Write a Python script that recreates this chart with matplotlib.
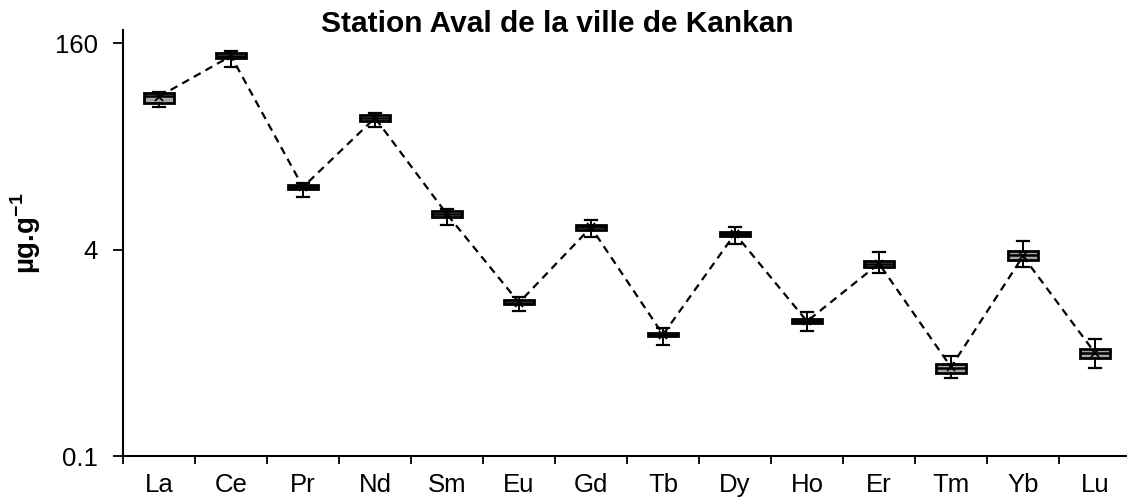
import numpy as np
import matplotlib
matplotlib.use("Agg")
import matplotlib.pyplot as plt
from matplotlib.ticker import FixedLocator, NullFormatter, NullLocator

plt.rcParams['font.family'] = ['Liberation Sans', 'DejaVu Sans']
plt.rcParams['mathtext.fontset'] = 'custom'
plt.rcParams['mathtext.rm'] = 'Liberation Sans'
plt.rcParams['mathtext.bf'] = 'Liberation Sans:bold'

elements = ["La", "Ce", "Pr", "Nd", "Sm", "Eu", "Gd", "Tb", "Dy", "Ho", "Er", "Tm", "Yb", "Lu"]
q1 =     [54.7, 122.0, 11.7, 40.0, 7.2, 1.50, 5.70, 0.85, 5.10, 1.07, 2.94, 0.443, 3.32, 0.576]
median = [62.0, 128.0, 12.2, 42.0, 7.5, 1.55, 5.95, 0.876, 5.30, 1.11, 3.11, 0.480, 3.63, 0.626]
q3 =     [65.9, 134.0, 12.7, 44.0, 7.9, 1.62, 6.20, 0.90, 5.50, 1.15, 3.26, 0.517, 3.91, 0.673]
wlo =    [51.3, 105.0, 10.2, 35.5, 6.2, 1.33, 5.00, 0.73, 4.45, 0.94, 2.64, 0.400, 2.91, 0.480]
whi =    [66.5, 139.0, 13.2, 46.0, 8.3, 1.72, 6.75, 0.98, 6.00, 1.32, 3.85, 0.600, 4.63, 0.810]
mean =   [61.5, 127.0, 12.2, 42.0, 7.5, 1.55, 5.95, 0.876, 5.30, 1.11, 3.11, 0.490, 3.55, 0.630]

yticks = [0.1, 4, 160]
yticklabels = ["0.1", "4", "160"]

fig = plt.figure(figsize=(11.27, 5.0), dpi=100)
ax = fig.add_axes([123 / 1127, 1 - 456 / 500, 1008 / 1127, (456 - 30) / 500])

x = np.arange(len(elements))
stats = []
for i in range(len(elements)):
    stats.append(dict(med=median[i], q1=q1[i], q3=q3[i], whislo=wlo[i], whishi=whi[i],
                      mean=mean[i], fliers=[]))

ax.bxp(stats, positions=x, widths=0.42, patch_artist=True, showmeans=True,
       showfliers=False, capwidths=0.17,
       boxprops=dict(facecolor="#a6a6a6", edgecolor="black", linewidth=2.0),
       medianprops=dict(color="black", linewidth=1.8),
       whiskerprops=dict(color="black", linewidth=1.4),
       capprops=dict(color="black", linewidth=1.6),
       meanprops=dict(marker="x", markeredgecolor="black", markersize=6, markeredgewidth=1.3))

ax.plot(x, mean, color="black", linestyle=(0, (3.5, 2.5)), linewidth=1.6, zorder=4)

ax.set_yscale("log")
ax.set_ylim(0.1, 202)
ax.yaxis.set_major_locator(FixedLocator(yticks))
ax.set_yticklabels(yticklabels)
ax.yaxis.set_minor_locator(NullLocator())
ax.yaxis.set_minor_formatter(NullFormatter())

ax.set_xlim(-0.5, len(elements) - 0.5)
ax.set_xticks(x)
ax.set_xticklabels(elements)
ax.set_xticks(np.arange(-0.5, len(elements), 1.0), minor=True)
ax.tick_params(axis="x", which="major", length=0, pad=12, labelsize=18.5)
ax.tick_params(axis="x", which="minor", length=6, width=1.3, direction="out")
ax.tick_params(axis="y", which="major", length=7, width=1.3, direction="out", labelsize=18.5, pad=11)

for side in ("top", "right"):
    ax.spines[side].set_visible(False)
for side in ("left", "bottom"):
    ax.spines[side].set_linewidth(1.5)

fig.text(26 / 1127, 1 - 233 / 500, r"µg.g$^{\mathbf{-1}}$", rotation=90,
         ha="center", va="center", fontsize=20, fontweight="bold")
fig.text(557 / 1127, 1 - 24 / 500, "Station Aval de la ville de Kankan",
         ha="center", va="center", fontsize=21.5, fontweight="bold")

fig.savefig("out.png", dpi=100)
